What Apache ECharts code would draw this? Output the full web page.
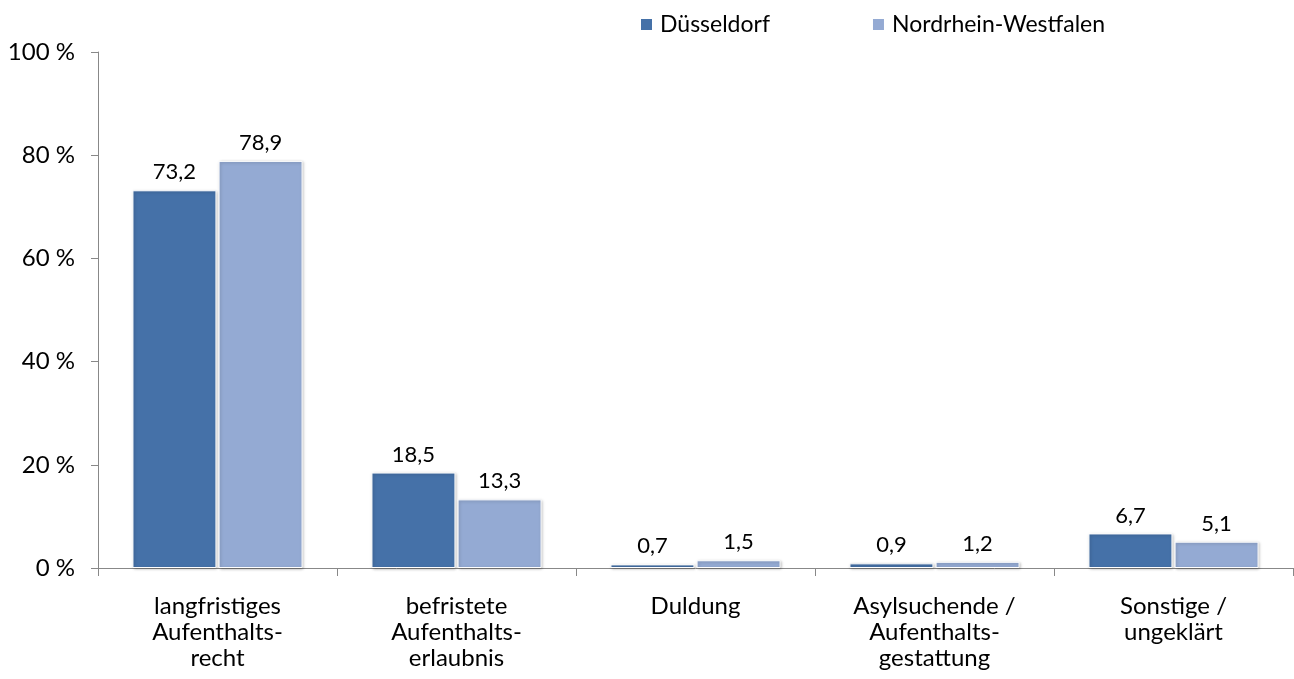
<!DOCTYPE html>
<html><head><meta charset="utf-8">
<script src="https://cdn.jsdelivr.net/npm/echarts@6/dist/echarts.min.js"></script>
<style>html,body{margin:0;padding:0;background:#fff}#c{width:1294px;height:679px}</style>
</head><body><div id="c"></div>
<script>
const categories = ['langfristiges\nAufenthalts-\nrecht', 'befristete\nAufenthalts-\nerlaubnis', 'Duldung', 'Asylsuchende /\nAufenthalts-\ngestattung', 'Sonstige /\nungeklärt'];
const duesseldorf = [73.2, 18.5, 0.7, 0.9, 6.7];
const nrw = [78.9, 13.3, 1.5, 1.2, 5.1];
const seriesNames = ['Düsseldorf', 'Nordrhein-Westfalen'];
const colors = ['#4571A8', '#94AAD3'];
const FONT = 'Lato, "Open Sans", sans-serif';
const chart = echarts.init(document.getElementById('c'));
const fmt = p => p.value.toFixed(1).replace('.', ',');
function mk(name, data, color) {
  return {
    name, type: 'bar', data, barWidth: 84, barGap: '2.5%',
    itemStyle: { color, borderColor: '#fff', borderWidth: 1, shadowColor: 'rgba(0,0,0,0.25)', shadowBlur: 3, shadowOffsetX: 1, shadowOffsetY: 1 },
    label: { show: true, position: 'top', distance: 7, formatter: fmt, fontFamily: FONT, fontSize: 22, color: '#000' }
  };
}
chart.setOption({
  animation: false,
  color: colors,
  legend: {
    top: 8, left: 634, itemGap: 101, itemWidth: 13, itemHeight: 13, icon: 'rect',
    textStyle: { fontFamily: FONT, fontSize: 23, color: '#000', padding: [0, 0, 0, 2] },
    data: seriesNames
  },
  grid: { left: 98, right: 1, top: 52, bottom: 111 },
  xAxis: {
    type: 'category', data: categories,
    axisLine: { lineStyle: { color: '#888' } },
    axisTick: { show: true, length: 8, lineStyle: { color: '#888' } },
    axisLabel: { fontFamily: FONT, fontSize: 24, color: '#000', margin: 25, lineHeight: 26, interval: 0 }
  },
  yAxis: {
    type: 'value', min: 0, max: 100, interval: 20,
    axisLine: { show: true, lineStyle: { color: '#888' } },
    axisTick: { show: true, length: 7, lineStyle: { color: '#888' } },
    splitLine: { show: false },
    axisLabel: { formatter: v => v + ' %', fontFamily: FONT, fontSize: 24, color: '#000', margin: 23 }
  },
  series: [mk(seriesNames[0], duesseldorf, colors[0]), mk(seriesNames[1], nrw, colors[1])]
});
</script></body></html>
